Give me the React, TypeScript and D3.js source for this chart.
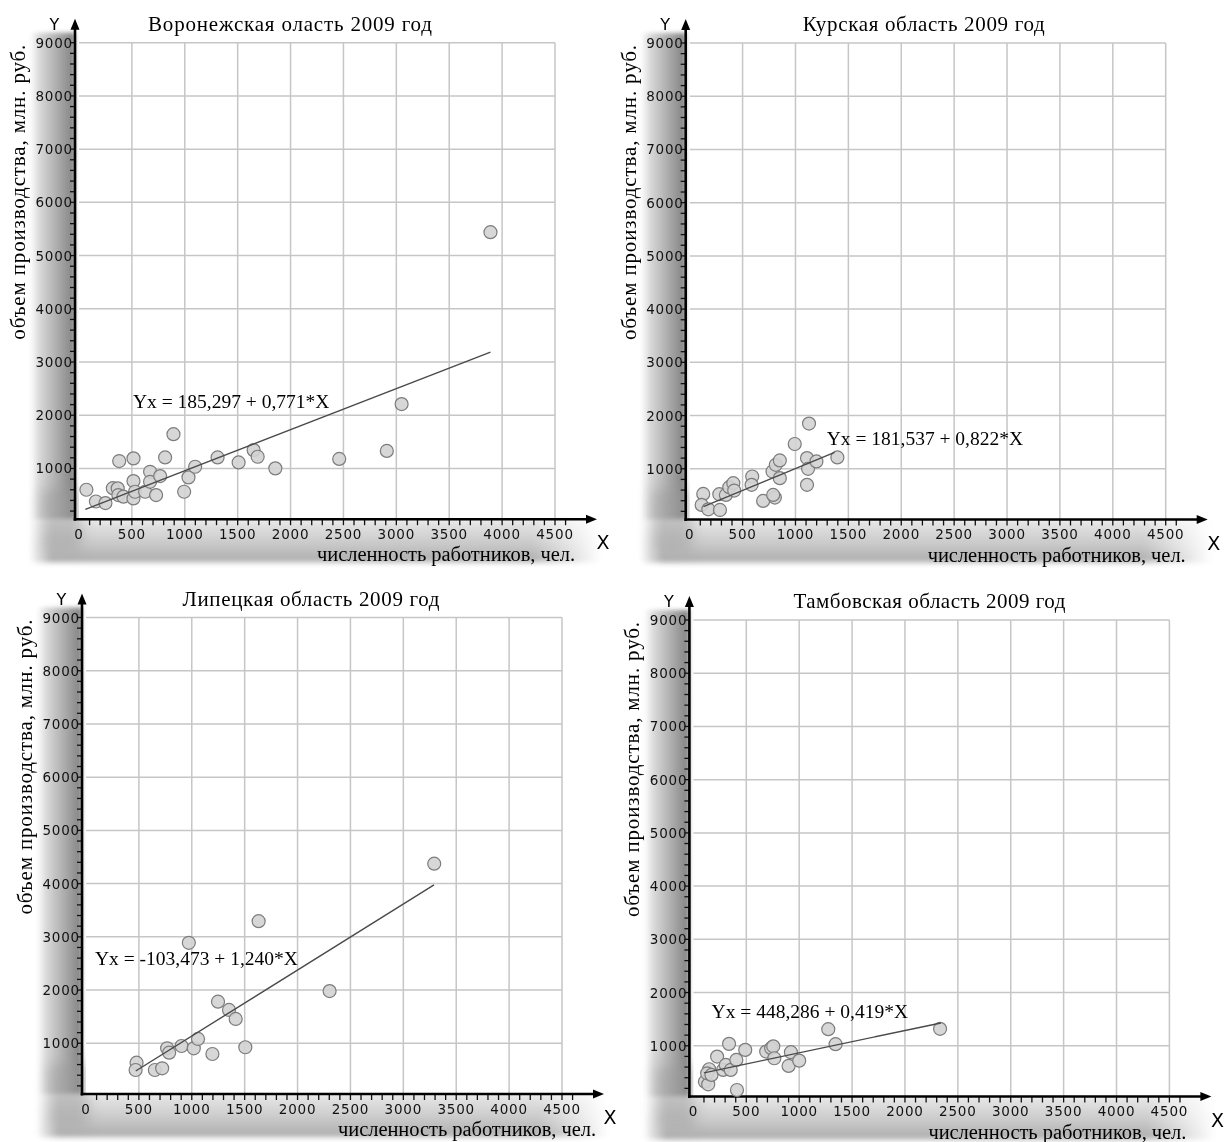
import React, { useEffect, useRef } from "react";
import * as d3 from "d3";

// axis ticks shared by all four panels
const xTicks = [0, 500, 1000, 1500, 2000, 2500, 3000, 3500, 4000, 4500];
const yTicks = [1000, 2000, 3000, 4000, 5000, 6000, 7000, 8000, 9000];

const titles = [
  "Воронежская оласть 2009 год",
  "Курская область 2009 год",
  "Липецкая область 2009 год",
  "Тамбовская область 2009 год",
];

// численность работников (X) / объем производства (Y)
const voronezhX = [70, 160, 250, 320, 366, 380, 372, 420, 515, 515, 515, 530, 625, 672, 672, 729, 767, 814, 893, 994, 1035, 1098, 1310, 1509, 1651, 1689, 1856, 2460, 2910, 3050, 3890];
const voronezhY = [600, 380, 350, 630, 626, 1140, 501, 470, 1190, 763, 438, 563, 563, 938, 750, 500, 857, 1208, 1645, 563, 833, 1032, 1208, 1114, 1345, 1220, 1002, 1180, 1330, 2210, 5440];

const kurskX = [128, 113, 176, 286, 280, 342, 374, 412, 421, 591, 585, 694, 805, 789, 783, 814, 852, 852, 993, 1109, 1119, 1109, 1128, 1198, 1396];
const kurskY = [528, 321, 239, 226, 522, 509, 654, 730, 591, 855, 698, 396, 459, 509, 949, 1075, 1157, 824, 1466, 1201, 1000, 698, 1849, 1138, 1213];

const lipetskX = [478, 469, 651, 720, 767, 786, 903, 1019, 1059, 1195, 1248, 1352, 1415, 1506, 972, 1632, 2303, 3292];
const lipetskY = [635, 498, 498, 530, 906, 823, 949, 906, 1081, 799, 1782, 1626, 1457, 925, 2888, 3294, 1981, 4375];

const tambovX = [109, 140, 149, 130, 171, 224, 281, 306, 337, 353, 406, 412, 490, 688, 735, 755, 765, 900, 922, 1000, 1275, 1344, 2332];
const tambovY = [326, 276, 559, 483, 452, 797, 546, 640, 1036, 546, 734, 169, 923, 891, 955, 990, 766, 621, 879, 721, 1312, 1030, 1318];

// regression Yx = a + b*X
const intercepts = [185.297, 181.537, -103.473, 448.286];
const slopes = [0.771, 0.822, 1.24, 0.419];
const lineFrom = [60, 130, 470, 100];
const lineTo = [3890, 1370, 3290, 2340];
const eqTexts = [
  "Yx = 185,297 + 0,771*X",
  "Yx = 181,537 + 0,822*X",
  "Yx = -103,473 + 1,240*X",
  "Yx = 448,286 + 0,419*X",
];
// where the equation starts, in data units
const eqAtX = [510, 1295, 85, 172];
const eqAtY = [2130, 1450, 2470, 1520];

const seriesX = [voronezhX, kurskX, lipetskX, tambovX];
const seriesY = [voronezhY, kurskY, lipetskY, tambovY];

// pixel layout of each panel: where x=0 / y=0 sit
const panelX0 = [79, 689.7, 86, 693.4];
const panelY0 = [521.7, 522, 1096.5, 1099];
const titleDX = [211, 234, 225, 236];
const titleLen = [284, 242, 257, 272];
const xLabelDX = [20, 20, 34, 17];

const serif = "'Liberation Serif', 'Times New Roman', serif";
const sans = "'DejaVu Sans', Verdana, sans-serif";

function App() {
  const svgRef = useRef<SVGSVGElement | null>(null);

  useEffect(() => {
    const svg = d3.select(svgRef.current);
    svg.selectAll("*").remove();

    const defs = svg.append("defs");
    const gl = defs.append("linearGradient").attr("id", "shadeLeft").attr("x1", 0).attr("x2", 1).attr("y1", 0).attr("y2", 0);
    gl.append("stop").attr("offset", 0).attr("stop-color", "#ffffff");
    gl.append("stop").attr("offset", 0.2).attr("stop-color", "#dadada");
    gl.append("stop").attr("offset", 1).attr("stop-color", "#808080");
    const gb = defs.append("linearGradient").attr("id", "shadeBottom").attr("x1", 0).attr("x2", 0).attr("y1", 0).attr("y2", 1);
    gb.append("stop").attr("offset", 0).attr("stop-color", "#e8e8e8");
    gb.append("stop").attr("offset", 0.55).attr("stop-color", "#c8c8c8");
    gb.append("stop").attr("offset", 0.88).attr("stop-color", "#b0b0b0");
    gb.append("stop").attr("offset", 1).attr("stop-color", "#ffffff");
    const fade = defs.append("linearGradient").attr("id", "fadeRight").attr("x1", 0).attr("x2", 1).attr("y1", 0).attr("y2", 0);
    fade.append("stop").attr("offset", 0).attr("stop-color", "#000");
    fade.append("stop").attr("offset", 0.04).attr("stop-color", "#fff");
    fade.append("stop").attr("offset", 0.88).attr("stop-color", "#fff");
    fade.append("stop").attr("offset", 1).attr("stop-color", "#000");
    defs.append("filter").attr("id", "soft").attr("x", "-10%").attr("y", "-10%").attr("width", "120%").attr("height", "120%")
      .append("feGaussianBlur").attr("stdDeviation", 2);
    defs.append("filter").attr("id", "softer").attr("x", "-50%").attr("y", "-50%").attr("width", "200%").attr("height", "200%")
      .append("feGaussianBlur").attr("stdDeviation", 7);

    for (let p = 0; p < 4; p++) {
      const x = d3.scaleLinear().domain([0, 4500]).range([panelX0[p], panelX0[p] + 476]);
      const y = d3.scaleLinear().domain([0, 9000]).range([panelY0[p], panelY0[p] - 479]);
      const axisX = x(0) - 4;
      const axisY = y(0) - 2.5;
      const xEnd = x(4500) + 42;
      const top = y(9000);
      const g = svg.append("g");

      // grey "3d" shading behind the axes
      const mask = defs.append("mask").attr("id", "m" + p);
      mask.append("rect").attr("x", axisX - 46).attr("y", axisY).attr("width", xEnd - axisX + 50).attr("height", 50).attr("fill", "url(#fadeRight)");
      const shade = g.append("g").attr("filter", "url(#soft)");
      shade.append("rect").attr("x", axisX - 45).attr("y", top - 10).attr("width", 45).attr("height", axisY - top + 10).attr("fill", "url(#shadeLeft)");
      shade.append("rect").attr("x", axisX - 45).attr("y", axisY).attr("width", xEnd - axisX + 48).attr("height", 46)
        .attr("fill", "url(#shadeBottom)").attr("mask", `url(#m${p})`);
      g.append("rect").attr("x", axisX - 34).attr("y", axisY - 30).attr("width", 40).attr("height", 62)
        .attr("fill", "#9a9a9a").attr("opacity", 0.5).attr("filter", "url(#softer)");

      // grid
      g.append("rect").attr("x", x(0)).attr("y", top).attr("width", x(4500) - x(0)).attr("height", axisY - top).attr("fill", "#fff");
      g.selectAll(".gh").data(yTicks).enter().append("line")
        .attr("x1", x(0)).attr("x2", x(4500)).attr("y1", (d) => y(d)).attr("y2", (d) => y(d))
        .attr("stroke", "#c6c6c6").attr("stroke-width", 1.5);
      g.selectAll(".gv").data(xTicks.slice(1)).enter().append("line")
        .attr("x1", (d) => x(d)).attr("x2", (d) => x(d)).attr("y1", top).attr("y2", axisY)
        .attr("stroke", "#c6c6c6").attr("stroke-width", 1.5);

      // minor ticks
      g.selectAll(".ty").data(d3.range(200, 9001, 200)).enter().append("line")
        .attr("x1", axisX - 5).attr("x2", axisX).attr("y1", (d) => y(d)).attr("y2", (d) => y(d))
        .attr("stroke", "#111").attr("stroke-width", 1.3);
      g.selectAll(".tx").data(d3.range(100, 4601, 100)).enter().append("line")
        .attr("x1", (d) => x(d)).attr("x2", (d) => x(d)).attr("y1", axisY).attr("y2", axisY + 6)
        .attr("stroke", "#111").attr("stroke-width", 1.3);

      // axes with arrows
      g.append("line").attr("x1", axisX).attr("x2", axisX).attr("y1", axisY + 1.5).attr("y2", top - 16)
        .attr("stroke", "#000").attr("stroke-width", 2.6);
      g.append("line").attr("x1", axisX - 1.3).attr("x2", xEnd - 6).attr("y1", axisY).attr("y2", axisY)
        .attr("stroke", "#000").attr("stroke-width", 2.6);
      g.append("path").attr("d", `M${axisX},${top - 24}L${axisX - 4.5},${top - 13}L${axisX + 4.5},${top - 13}Z`).attr("fill", "#000");
      g.append("path").attr("d", `M${xEnd},${axisY}L${xEnd - 11},${axisY - 4.5}L${xEnd - 11},${axisY + 4.5}Z`).attr("fill", "#000");

      // tick labels
      g.selectAll(".ly").data(yTicks).enter().append("text")
        .attr("x", axisX - 2).attr("y", (d) => y(d) + 5).attr("text-anchor", "end")
        .attr("font-family", sans).attr("font-size", 13.5).attr("letter-spacing", 0.8).attr("fill", "#111")
        .text((d) => d);
      g.selectAll(".lx").data(xTicks).enter().append("text")
        .attr("x", (d) => x(d)).attr("y", axisY + 19.5).attr("text-anchor", "middle")
        .attr("font-family", sans).attr("font-size", 13.5).attr("letter-spacing", 0.8).attr("fill", "#111")
        .text((d) => d);

      g.append("text").attr("x", x(0) - 24.5).attr("y", top - 13).attr("text-anchor", "middle")
        .attr("font-family", sans).attr("font-size", 16).text("Y");
      g.append("text").attr("x", x(4500) + 48).attr("y", axisY + 30).attr("text-anchor", "middle")
        .attr("font-family", sans).attr("font-size", 19).text("X");

      g.append("text").attr("x", x(0) + titleDX[p]).attr("y", top - 12).attr("text-anchor", "middle")
        .attr("font-family", serif).attr("font-size", 21).attr("textLength", titleLen[p]).attr("lengthAdjust", "spacing")
        .text(titles[p]);
      g.append("text").attr("transform", `translate(${x(0) - 54},${top + 2}) rotate(-90)`).attr("text-anchor", "end")
        .attr("font-family", serif).attr("font-size", 21).attr("textLength", 295).attr("lengthAdjust", "spacing")
        .text("объем производства, млн. руб.");
      g.append("text").attr("x", x(4500) + xLabelDX[p]).attr("y", axisY + 42).attr("text-anchor", "end")
        .attr("font-family", serif).attr("font-size", 20.5).attr("textLength", 258).attr("lengthAdjust", "spacing")
        .text("численность работников, чел.");

      // points
      const pts = seriesX[p].map((v, i) => ({ x: v, y: seriesY[p][i] }));
      g.selectAll(".pt").data(pts).enter().append("circle")
        .attr("cx", (d) => x(d.x)).attr("cy", (d) => y(d.y)).attr("r", 6.5)
        .attr("fill", "#d3d3d3").attr("fill-opacity", 0.9).attr("stroke", "#7c7c7c").attr("stroke-width", 1.2);

      // regression line
      const line = d3.line<number>().x((d) => x(d)).y((d) => y(intercepts[p] + slopes[p] * d));
      g.append("path").attr("d", line([lineFrom[p], lineTo[p]])).attr("stroke", "#4a4a4a").attr("stroke-width", 1.4).attr("fill", "none");

      g.append("text").attr("x", x(eqAtX[p])).attr("y", y(eqAtY[p]))
        .attr("font-family", serif).attr("font-size", 19.5).text(eqTexts[p]);
    }
  }, []);

  return (
    <svg ref={svgRef} width={1226} height={1142} style={{ position: "absolute", left: 0, top: 0, background: "#fff" }} />
  );
}

export default App;
